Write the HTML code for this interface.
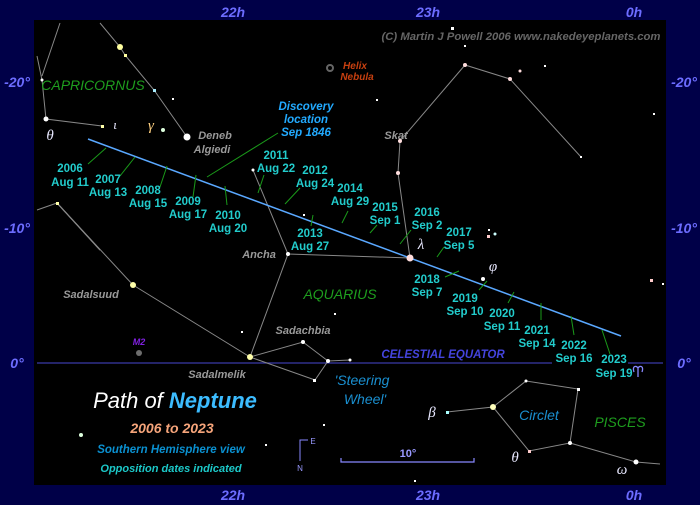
<!DOCTYPE html>
<html><head><meta charset="utf-8"><style>
html,body{margin:0;padding:0;background:#000048;}
svg{display:block;font-family:"Liberation Sans",sans-serif;}
.ax{fill:#6c6cff;font-weight:bold;font-style:italic;font-size:14px;}
.yr{fill:#22cccc;font-weight:bold;font-size:11.5px;text-anchor:middle;}
.nm{fill:#999;font-weight:bold;font-style:italic;font-size:11px;text-anchor:middle;}
.cl{stroke:#888;stroke-width:1;fill:none;}
.tk{stroke:#1a9a1a;stroke-width:1;}
.gr{fill:#1e9e1e;font-style:italic;font-size:14px;text-anchor:middle;}
.bl{fill:#1a8fd0;font-style:italic;font-size:14px;text-anchor:middle;}
.gk{fill:#e8e8ff;font-style:italic;font-size:15px;font-family:"Liberation Serif",serif;text-anchor:middle;}
</style></head><body>
<svg width="700" height="505" viewBox="0 0 700 505">
<rect width="700" height="505" fill="#000048"/>
<rect x="34" y="20" width="632" height="465" fill="#000"/>
<g class="ax" text-anchor="middle">
<text x="233" y="17">22h</text><text x="428" y="17">23h</text><text x="634" y="17">0h</text>
<text x="233" y="500">22h</text><text x="428" y="500">23h</text><text x="634" y="500">0h</text>
<text x="17" y="87">-20°</text><text x="17" y="233">-10°</text><text x="17" y="368">0°</text>
<text x="684" y="87">-20°</text><text x="684" y="233">-10°</text><text x="684" y="368">0°</text>
</g>
<line x1="37" y1="363" x2="552" y2="363" stroke="#3a3aa8" stroke-width="1.2"/>
<line x1="628" y1="363" x2="663" y2="363" stroke="#3a3aa8" stroke-width="1.2"/>
<g class="cl">
<polyline points="37,56 42,80 46,119 102,126"/>
<polyline points="60,23 42,76"/>
<polyline points="100,23 120,47 125,55 154,90 187,137"/>
<polyline points="37,210 57,203 100,250"/>
<polyline points="57,203 100,250"/>
<polyline points="100,250"/>
<polyline points="133,285 250,357"/>
<polyline points="253,170 288,254 250,357 303,342 328,361 350,360"/>
<polyline points="250,357 315,380 328,361"/>
<polyline points="288,254 410,258 398,173 400,141 465,65 510,79 581,157"/>
<polyline points="447,412 493,407 526,381 578,389 570,443 529,451 493,407"/>
<polyline points="570,443 636,462 660,464"/>
</g>
<line x1="57" y1="203" x2="133" y2="285" stroke="#000" stroke-width="0"/>
<line x1="57" y1="203" x2="100" y2="250" stroke="#888" stroke-width="1"/>
<line x1="57" y1="203" x2="133" y2="285" stroke="#888" stroke-width="1"/>
<line x1="88" y1="139" x2="621" y2="336" stroke="#5aa8ff" stroke-width="1.5"/>
<g class="tk">
<line x1="88" y1="164" x2="106" y2="148"/><line x1="120" y1="176" x2="135" y2="157"/>
<line x1="160" y1="187" x2="167" y2="166"/><line x1="193" y1="197" x2="196" y2="175"/>
<line x1="227" y1="205" x2="225" y2="186"/><line x1="258" y1="193" x2="264" y2="175"/>
<line x1="285" y1="204" x2="300" y2="188"/><line x1="311" y1="226" x2="313" y2="215"/>
<line x1="342" y1="223" x2="348" y2="211"/>
<line x1="370" y1="233" x2="377" y2="225"/><line x1="400" y1="244" x2="411" y2="230"/>
<line x1="437" y1="257" x2="444" y2="247"/><line x1="445" y1="277" x2="459" y2="271"/>
<line x1="479" y1="290" x2="487" y2="281"/><line x1="508" y1="303" x2="514" y2="292"/>
<line x1="541" y1="320" x2="541" y2="303"/><line x1="574" y1="335" x2="571" y2="316"/>
<line x1="610" y1="354" x2="602" y2="330"/>
<line x1="207" y1="177" x2="278" y2="133"/>
</g>
<g fill="#fff">
<circle cx="120" cy="47" r="3" fill="#ffffa0"/><rect x="124" y="54" width="3" height="3" fill="#ffffa0"/>
<rect x="153" y="89" width="3" height="3" fill="#aef"/><rect x="172" y="98" width="2" height="2"/>
<circle cx="163" cy="130" r="2" fill="#dfd"/><circle cx="187" cy="137" r="3.5"/>
<circle cx="42" cy="80" r="1.5"/><circle cx="46" cy="119" r="2.5"/><rect x="101" y="125" width="3" height="3" fill="#ffa"/>
<rect x="56" y="202" width="3" height="3" fill="#ffa"/><circle cx="133" cy="285" r="3" fill="#ffa"/>
<circle cx="250" cy="357" r="3" fill="#ffa"/><circle cx="253" cy="170" r="1.5"/><circle cx="288" cy="254" r="2"/>
<circle cx="303" cy="342" r="2"/><circle cx="328" cy="361" r="2"/><circle cx="350" cy="360" r="1.5"/>
<rect x="313" y="379" width="3" height="3"/><circle cx="410" cy="258" r="3.5" fill="#fdd"/>
<circle cx="398" cy="173" r="2" fill="#fdd"/><circle cx="400" cy="141" r="2" fill="#fdd"/>
<circle cx="465" cy="65" r="2" fill="#fdd"/><circle cx="510" cy="79" r="2" fill="#fdd"/><circle cx="520" cy="71" r="1.5" fill="#fdd"/>
<rect x="580" y="156" width="2" height="2"/><rect x="451" y="27" width="3" height="3"/><rect x="464" y="45" width="2" height="2"/>
<rect x="544" y="65" width="2" height="2"/><rect x="376" y="99" width="2" height="2"/><rect x="653" y="113" width="2" height="2"/>
<circle cx="483" cy="279" r="2"/><circle cx="495" cy="234" r="1.5" fill="#cff"/><rect x="488" y="229" width="2" height="2"/>
<rect x="487" y="235" width="3" height="3" fill="#fcc"/>
<circle cx="493" cy="407" r="3" fill="#ffb"/><rect x="446" y="411" width="3" height="3" fill="#aff"/>
<circle cx="526" cy="381" r="1.5"/><rect x="577" y="388" width="3" height="3"/><circle cx="570" cy="443" r="2"/>
<rect x="528" y="450" width="3" height="3" fill="#fcc"/><circle cx="636" cy="462" r="2.5"/>
<rect x="650" y="279" width="3" height="3" fill="#fcc"/><rect x="662" y="283" width="2" height="2"/>
<rect x="241" y="331" width="2" height="2"/><rect x="303" y="214" width="2" height="2"/><rect x="334" y="313" width="2" height="2"/>
<circle cx="81" cy="435" r="2" fill="#dfd"/><rect x="265" y="444" width="2" height="2"/><rect x="323" y="424" width="2" height="2"/><rect x="414" y="480" width="2" height="2"/>
</g>
<circle cx="330" cy="68" r="3" fill="none" stroke="#666" stroke-width="2"/>
<circle cx="139" cy="353" r="3" fill="#888" opacity="0.8"/>
<g class="yr">
<text x="70" y="172">2006</text><text x="70" y="186">Aug 11</text>
<text x="108" y="183">2007</text><text x="108" y="196">Aug 13</text>
<text x="148" y="194">2008</text><text x="148" y="207">Aug 15</text>
<text x="188" y="205">2009</text><text x="188" y="218">Aug 17</text>
<text x="228" y="219">2010</text><text x="228" y="232">Aug 20</text>
<text x="276" y="159">2011</text><text x="276" y="172">Aug 22</text>
<text x="315" y="174">2012</text><text x="315" y="187">Aug 24</text>
<text x="310" y="237">2013</text><text x="310" y="250">Aug 27</text>
<text x="350" y="192">2014</text><text x="350" y="205">Aug 29</text>
<text x="385" y="211">2015</text><text x="385" y="224">Sep 1</text>
<text x="427" y="216">2016</text><text x="427" y="229">Sep 2</text>
<text x="459" y="236">2017</text><text x="459" y="249">Sep 5</text>
<text x="427" y="283">2018</text><text x="427" y="296">Sep 7</text>
<text x="465" y="302">2019</text><text x="465" y="315">Sep 10</text>
<text x="502" y="317">2020</text><text x="502" y="330">Sep 11</text>
<text x="537" y="334">2021</text><text x="537" y="347">Sep 14</text>
<text x="574" y="349">2022</text><text x="574" y="362">Sep 16</text>
<text x="614" y="363">2023</text><text x="614" y="377">Sep 19</text>
</g>
<path d="M634,372 C632,366 636,365 638,368 L638,377 M638,368 C640,365 644,366 642,372" fill="none" stroke="#88f" stroke-width="1.3"/>
<g fill="#22aaff" font-weight="bold" font-style="italic" font-size="11.5" text-anchor="middle">
<text x="306" y="110">Discovery</text><text x="306" y="123">location</text><text x="306" y="136">Sep 1846</text>
</g>
<g class="nm">
<text x="215" y="139">Deneb</text><text x="212" y="153">Algiedi</text>
<text x="396" y="139">Skat</text><text x="259" y="258">Ancha</text>
<text x="91" y="298">Sadalsuud</text><text x="303" y="334">Sadachbia</text><text x="217" y="378">Sadalmelik</text>
</g>
<g fill="#c84010" font-weight="bold" font-style="italic" font-size="10" text-anchor="middle">
<text x="355" y="69">Helix</text><text x="357" y="80">Nebula</text>
</g>
<text x="139" y="345" fill="#8020e0" font-weight="bold" font-style="italic" font-size="9" text-anchor="middle">M2</text>
<text x="521" y="40" fill="#666" font-weight="bold" font-style="italic" font-size="11.3" text-anchor="middle">(C) Martin J Powell  2006  www.nakedeyeplanets.com</text>
<text class="gr" x="93" y="90" font-size="13">CAPRICORNUS</text>
<text class="gr" x="340" y="299">AQUARIUS</text>
<text class="gr" x="620" y="427">PISCES</text>
<text class="bl" x="539" y="420">Circlet</text>
<text class="bl" x="362" y="385">'Steering</text><text class="bl" x="365" y="404">Wheel'</text>
<text x="443" y="358" fill="#4444dd" font-weight="bold" font-style="italic" font-size="11.5" text-anchor="middle">CELESTIAL EQUATOR</text>
<g class="gk">
<text x="50" y="140">θ</text><text x="115" y="129" font-size="13">ι</text><text x="151" y="130" fill="#ffd080">γ</text>
<text x="421" y="249">λ</text><text x="493" y="271">φ</text><text x="432" y="417">β</text>
<text x="515" y="462">θ</text><text x="622" y="474">ω</text>
</g>
<text x="175" y="408" fill="#fff" font-style="italic" font-size="22" text-anchor="middle">Path of <tspan fill="#3cbcff" font-weight="bold">Neptune</tspan></text>
<text x="172" y="433" fill="#f5a47a" font-weight="bold" font-style="italic" font-size="14" text-anchor="middle">2006 to 2023</text>
<text x="171" y="453" fill="#0a90d0" font-weight="bold" font-style="italic" font-size="11.5" text-anchor="middle">Southern Hemisphere view</text>
<text x="171" y="472" fill="#1cc8c8" font-weight="bold" font-style="italic" font-size="11" text-anchor="middle">Opposition dates indicated</text>
<polyline points="308,440 300,440 300,461" fill="none" stroke="#88f" stroke-width="1"/>
<text x="313" y="444" fill="#99f" font-size="8" text-anchor="middle">E</text>
<text x="300" y="471" fill="#99f" font-size="8" text-anchor="middle">N</text>
<polyline points="341,458 341,462 474,462 474,458" fill="none" stroke="#88f" stroke-width="1.2"/>
<text x="408" y="457" fill="#99f" font-weight="bold" font-size="11" text-anchor="middle">10°</text>
</svg>
</body></html>
